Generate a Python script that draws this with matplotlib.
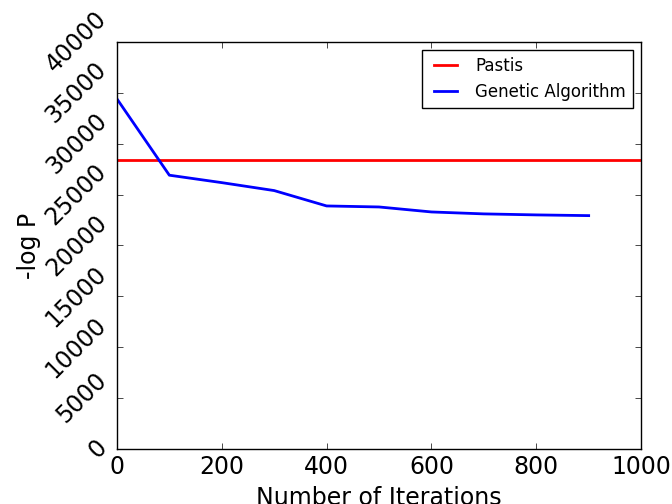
import numpy as np
import matplotlib
matplotlib.use('Agg')
import matplotlib.pyplot as plt

plt.style.use('classic')

# -log P of best solution after each block of iterations
iterations = [0, 100, 200, 300, 400, 500, 600, 700, 800, 900]
ga_logp = [34400, 26900, 26170, 25390, 23880, 23780, 23290, 23100, 23000, 22930]
pastis_logp = 28400

fig = plt.figure(figsize=(6.72, 5.04), dpi=100)
ax = fig.add_axes([0.174, 0.109, 0.780, 0.808])

ax.axhline(pastis_logp, color='r', linewidth=2, label='Pastis')
ax.plot(iterations, ga_logp, color='b', linewidth=2, label='Genetic Algorithm')

ax.set_xlim(0, 1000)
ax.set_ylim(0, 40000)
ax.set_xlabel('Number of Iterations', fontsize=17)
ax.set_ylabel('-log P', fontsize=17, labelpad=0)
ax.tick_params(labelsize=17)
plt.setp(ax.get_yticklabels(), rotation=45)
ax.legend(loc='upper right', fontsize=12)

fig.savefig('out.png', dpi=100)
